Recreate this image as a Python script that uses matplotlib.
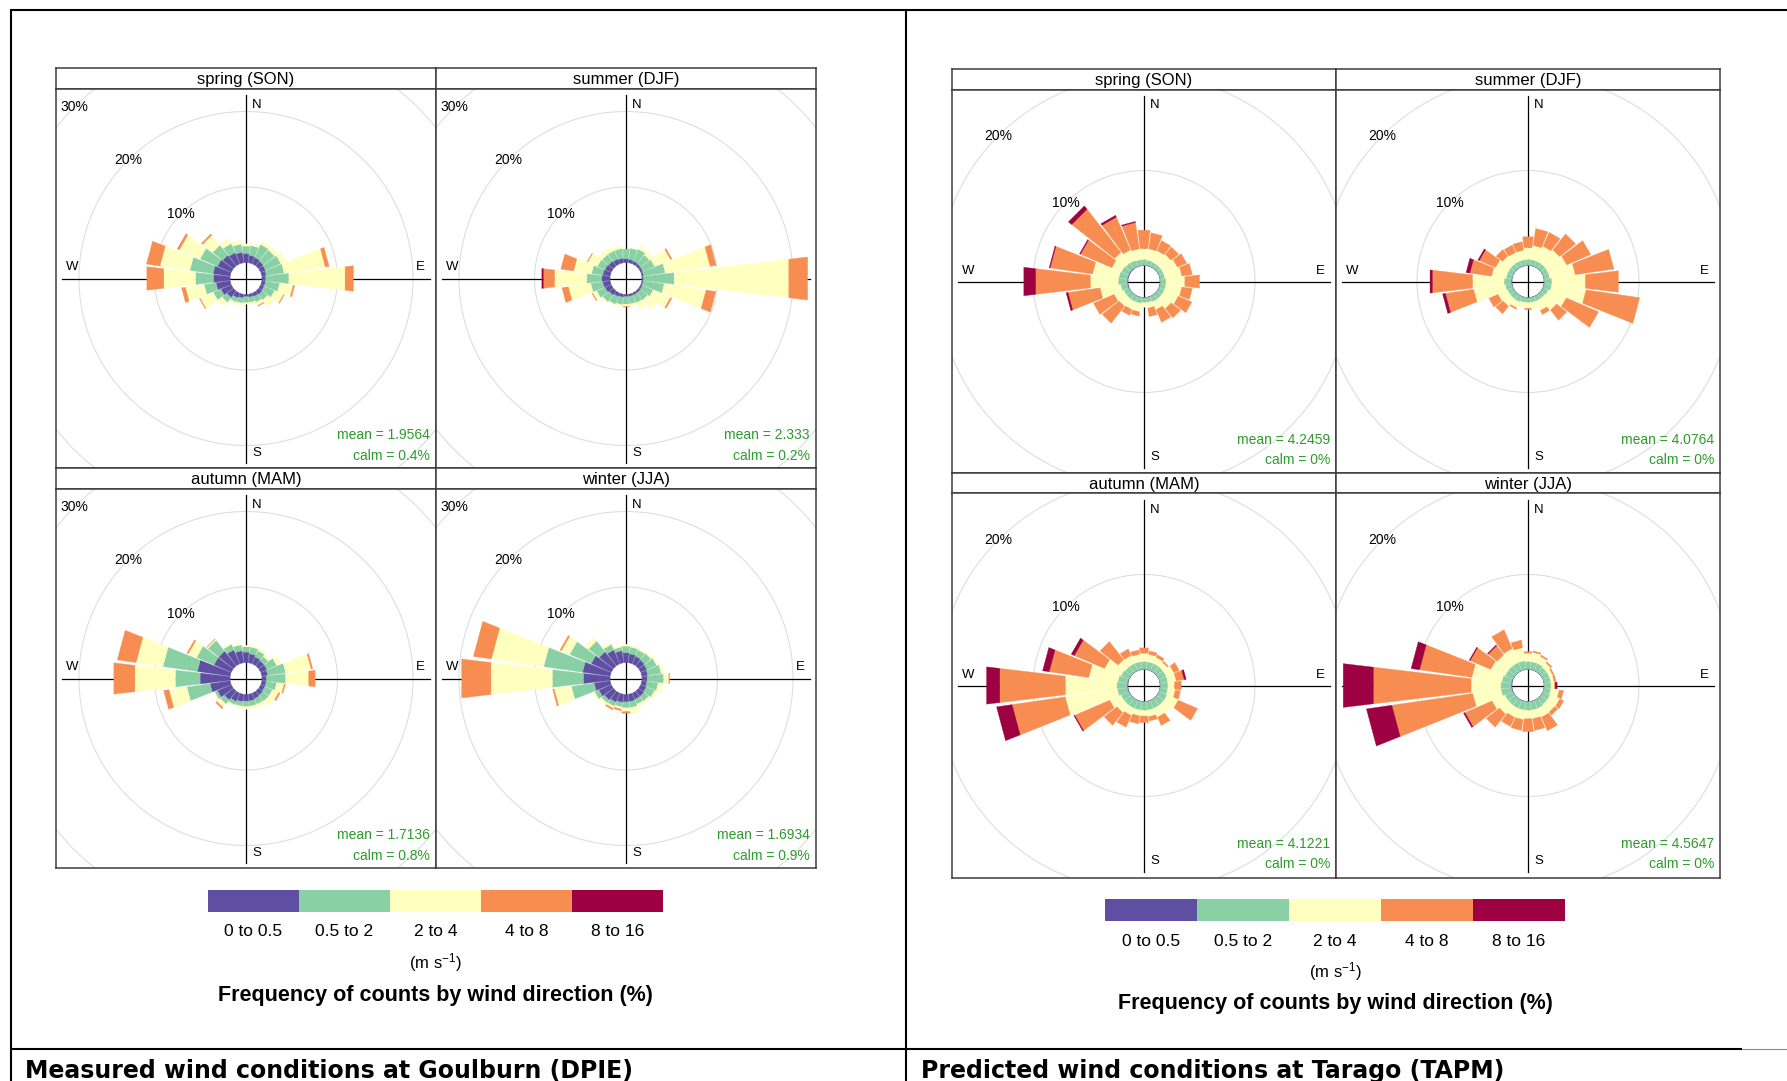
import numpy as np
import matplotlib
matplotlib.use("Agg")
import matplotlib.pyplot as plt
from matplotlib.patches import Circle

plt.rcParams["font.family"] = ["Liberation Sans", "DejaVu Sans"]
plt.rcParams["mathtext.fontset"] = "custom"
plt.rcParams["mathtext.rm"] = "Liberation Sans"
plt.rcParams["mathtext.it"] = "Liberation Sans:italic"

W, H = 1787, 1081

# ── wind rose data ────────────────────────────────────────────────────────────
DIRECTIONS = list(range(0, 360, 15))
SPEED_BINS = ["0 to 0.5", "0.5 to 2", "2 to 4", "4 to 8", "8 to 16"]
SPEED_COLOURS = ["#5E4FA2", "#89D0A5", "#FFFFBF", "#F88D52", "#9E0142"]
SEASONS = ["spring (SON)", "summer (DJF)", "autumn (MAM)", "winter (JJA)"]

# frequency (%) by direction (rows, 0..345 deg), one column per speed class
goulburn_spring = [
    [1.2, 1.0, 0.3, 0, 0], [1.0, 1.3, 0.3, 0, 0], [0.9, 1.9, 0.4, 0, 0],
    [0.8, 1.9, 0.5, 0, 0], [0.7, 2.2, 0.7, 0, 0], [0.6, 2.4, 5.5, 0.5, 0],
    [0.5, 3.1, 7.5, 1.1, 0], [0.5, 1.9, 1.8, 0.2, 0], [0.5, 1.5, 1.3, 0.1, 0],
    [0.6, 0.9, 1.1, 0, 0], [0.5, 0.8, 0.5, 0.1, 0], [0.4, 0.7, 0.2, 0, 0],
    [0.3, 0.8, 0.2, 0, 0], [0.5, 0.7, 0.3, 0, 0], [0.7, 0.6, 0.3, 0, 0],
    [1.1, 0.8, 0.7, 0, 0], [1.5, 1.1, 1.9, 0.1, 0], [1.9, 1.6, 2.5, 0.5, 0],
    [2.2, 2.4, 4.25, 2.25, 0], [2.3, 3.1, 4.0, 1.8, 0], [2.0, 2.5, 3.0, 0.3, 0],
    [1.8, 1.7, 1.7, 0.2, 0], [1.6, 1.3, 0.7, 0, 0], [1.4, 1.1, 0.5, 0, 0],
]
goulburn_summer = [
    [0.5, 1.3, 0, 0, 0], [0.45, 1.5, 0.1, 0, 0], [0.4, 1.7, 0.4, 0, 0],
    [0.35, 1.5, 0.6, 0, 0], [0.3, 1.7, 2.3, 0.2, 0], [0.25, 2.9, 6.0, 0.8, 0],
    [0.2, 4.1, 15.3, 2.5, 0], [0.2, 2.8, 5.6, 1.3, 0], [0.25, 1.55, 2.5, 0.2, 0],
    [0.3, 1.2, 1.6, 0, 0], [0.3, 1.1, 0.9, 0, 0], [0.3, 1.0, 0.3, 0, 0],
    [0.3, 1.0, 0.3, 0.05, 0], [0.4, 1.0, 0.3, 0, 0], [0.5, 1.1, 0.2, 0, 0],
    [0.7, 1.1, 0.2, 0, 0], [0.9, 1.2, 0.6, 0.1, 0], [1.0, 1.6, 3.0, 0.85, 0],
    [1.1, 2.0, 4.3, 1.5, 0.2], [1.0, 1.5, 2.4, 1.7, 0], [0.9, 1.1, 1.4, 0.1, 0],
    [0.8, 1.1, 0.7, 0, 0], [0.7, 1.2, 0.5, 0, 0], [0.6, 1.3, 0.4, 0, 0],
]
goulburn_autumn = [
    [1.4, 0.7, 0.2, 0, 0], [1.2, 0.9, 0.2, 0, 0], [1.0, 0.9, 0.3, 0, 0],
    [0.9, 0.7, 0.3, 0, 0], [0.9, 1.4, 0.6, 0, 0], [0.8, 2.4, 3.4, 0.2, 0],
    [0.6, 2.55, 3.1, 0.85, 0], [0.6, 1.4, 1.0, 0.15, 0], [0.6, 1.1, 0.9, 0.2, 0],
    [0.7, 1.0, 0.8, 0, 0], [0.8, 0.8, 0.4, 0, 0], [0.9, 0.7, 0.3, 0, 0],
    [0.9, 0.7, 0.4, 0, 0], [1.0, 0.6, 0.2, 0, 0], [1.2, 0.5, 0.1, 0, 0],
    [1.5, 0.7, 0.6, 0.2, 0], [2.0, 0.4, 0.1, 0, 0], [2.7, 3.1, 2.4, 0.7, 0],
    [4.0, 3.3, 5.4, 2.8, 0], [4.4, 4.6, 3.6, 2.5, 0], [2.5, 2.5, 1.2, 0.2, 0],
    [2.5, 1.8, 0.2, 0.05, 0], [2.0, 0.8, 0.2, 0, 0], [1.6, 0.8, 0.2, 0, 0],
]
goulburn_winter = [
    [1.3, 0.9, 0.25, 0, 0], [1.2, 0.9, 0.2, 0, 0], [1.1, 0.9, 0.2, 0, 0],
    [1.0, 1.1, 0.2, 0, 0], [0.9, 1.4, 0.2, 0, 0], [0.8, 1.8, 0.3, 0, 0],
    [0.7, 2.2, 0.7, 0.1, 0], [0.7, 1.5, 0.6, 0, 0], [0.8, 1.2, 0.4, 0, 0],
    [0.9, 0.8, 0.3, 0, 0], [0.9, 0.7, 0.4, 0, 0], [1.0, 0.8, 0.8, 0, 0],
    [1.0, 0.8, 0.5, 0.2, 0], [1.1, 0.6, 0.3, 0.2, 0], [1.3, 0.6, 0.3, 0.2, 0],
    [1.5, 0.5, 0.2, 0, 0], [1.8, 0.6, 0.2, 0, 0], [2.15, 3.05, 2.3, 0.2, 0],
    [3.55, 4.15, 8.2, 3.9, 0], [3.7, 5.2, 7.0, 2.4, 0], [2.9, 3.1, 1.2, 0.2, 0],
    [2.4, 1.8, 0.6, 0, 0], [2.0, 0.8, 0.3, 0, 0], [1.6, 0.5, 0.2, 0, 0],
]

tarago_spring = [
    [0.05, 0.6, 1.15, 1.95, 0], [0.05, 0.55, 1.2, 1.7, 0], [0.05, 0.5, 1.3, 1.15, 0],
    [0.05, 0.5, 1.4, 1.0, 0], [0.05, 0.5, 1.6, 1.05, 0], [0.05, 0.5, 1.8, 1.1, 0],
    [0.05, 0.6, 2.0, 1.55, 0], [0.05, 0.6, 1.7, 1.1, 0], [0.05, 0.6, 1.6, 1.55, 0],
    [0.05, 0.6, 1.3, 1.25, 0], [0.05, 0.6, 0.9, 1.45, 0], [0.05, 0.5, 0.6, 0.9, 0],
    [0.05, 0.5, 0.5, 0, 0], [0.05, 0.6, 0.9, 0.45, 0], [0.05, 0.6, 0.9, 0.65, 0],
    [0.05, 0.6, 1.0, 2.25, 0], [0.05, 0.6, 1.1, 2.35, 0], [0.1, 0.7, 2.2, 3.4, 0.2],
    [0.1, 0.95, 2.95, 5.8, 1.25], [0.1, 0.9, 2.8, 4.5, 0.1], [0.1, 0.8, 1.1, 3.6, 0.1],
    [0.1, 0.7, 1.45, 5.75, 0.45], [0.05, 0.7, 1.2, 3.75, 0.2], [0.05, 0.6, 1.15, 2.8, 0.1],
]
tarago_summer = [
    [0.05, 0.6, 1.25, 1.15, 0], [0.05, 0.6, 1.5, 1.8, 0], [0.05, 0.6, 1.7, 1.6, 0],
    [0.05, 0.6, 1.9, 2.15, 0], [0.05, 0.6, 2.1, 2.75, 0], [0.05, 0.6, 2.7, 4.1, 0],
    [0.05, 0.8, 3.55, 3.5, 0], [0.05, 0.8, 3.65, 5.7, 0], [0.05, 0.6, 2.05, 3.7, 0],
    [0.05, 0.5, 1.6, 1.35, 0], [0.05, 0.5, 1.1, 0.45, 0], [0.05, 0.5, 0.7, 0, 0],
    [0.05, 0.5, 0.6, 0.15, 0], [0.05, 0.5, 0.6, 0, 0], [0.05, 0.6, 0.7, 0.15, 0],
    [0.05, 0.6, 1.0, 1.0, 0], [0.05, 0.6, 1.1, 1.05, 0], [0.05, 0.7, 3.35, 3.0, 0.3],
    [0.1, 0.75, 3.35, 4.25, 0.25], [0.05, 0.6, 1.55, 2.3, 0.4], [0.05, 0.6, 1.4, 1.85, 0.15],
    [0.05, 0.6, 1.1, 0.85, 0], [0.05, 0.6, 1.0, 0.85, 0], [0.05, 0.6, 1.0, 0.9, 0],
]
tarago_autumn = [
    [0.05, 0.8, 0.9, 0.55, 0], [0.05, 0.8, 0.8, 0.35, 0], [0.05, 0.8, 0.7, 0.3, 0],
    [0.05, 0.8, 0.6, 0.15, 0], [0.05, 0.8, 0.9, 0.6, 0], [0.05, 0.8, 0.9, 0.85, 0.2],
    [0.05, 0.8, 0.7, 0.7, 0], [0.05, 0.8, 0.8, 0.55, 0], [0.05, 0.9, 1.3, 2.2, 0],
    [0.05, 0.9, 1.05, 0, 0], [0.05, 0.9, 1.0, 0.95, 0], [0.05, 0.9, 0.7, 0.45, 0],
    [0.05, 0.9, 0.6, 0.7, 0], [0.05, 0.9, 0.6, 0.85, 0], [0.05, 0.9, 0.8, 1.35, 0],
    [0.05, 0.9, 1.0, 1.7, 0], [0.05, 0.9, 1.3, 4.0, 0.1], [0.1, 1.05, 5.55, 5.65, 1.65],
    [0.1, 1.1, 5.45, 6.95, 1.4], [0.1, 1.0, 3.1, 4.2, 0.7], [0.05, 0.9, 1.9, 3.45, 0.35],
    [0.05, 0.8, 0.95, 2.4, 0], [0.05, 0.8, 0.9, 0.75, 0], [0.05, 0.8, 0.8, 0.45, 0],
]
tarago_winter = [
    [0.05, 0.8, 0.9, 0.15, 0], [0.05, 0.8, 1.0, 0.15, 0], [0.05, 0.8, 0.8, 0.15, 0],
    [0.05, 0.7, 0.6, 0.15, 0], [0.05, 0.7, 0.4, 0.15, 0], [0.05, 0.7, 0.35, 0.2, 0],
    [0.05, 0.7, 0.35, 0.1, 0.2], [0.05, 0.7, 0.9, 0.45, 0], [0.05, 0.8, 1.1, 0.45, 0],
    [0.05, 0.8, 1.05, 0.4, 0], [0.05, 0.9, 1.0, 1.55, 0], [0.05, 0.9, 0.9, 1.25, 0],
    [0.05, 0.9, 0.9, 1.35, 0], [0.05, 0.9, 1.0, 1.15, 0], [0.05, 0.9, 1.0, 1.05, 0],
    [0.05, 0.9, 1.2, 1.75, 0], [0.05, 0.9, 1.5, 3.1, 0.15], [0.1, 1.1, 3.0, 8.6, 2.7],
    [0.1, 1.1, 3.15, 10.35, 3.2], [0.1, 1.0, 3.2, 5.55, 0.9], [0.05, 0.9, 1.65, 2.35, 0.1],
    [0.05, 0.9, 1.5, 1.2, 0.1], [0.05, 0.9, 1.6, 2.15, 0], [0.05, 0.9, 1.4, 0.8, 0],
]

goulburn_mean = [1.9564, 2.333, 1.7136, 1.6934]
goulburn_calm = [0.4, 0.2, 0.8, 0.9]
tarago_mean = [4.2459, 4.0764, 4.1221, 4.5647]
tarago_calm = [0, 0, 0, 0]

CAPTIONS = ["Measured wind conditions at Goulburn (DPIE)",
            "Predicted wind conditions at Tarago (TAPM)"]

# ── page layout (pixels) ──────────────────────────────────────────────────────
SITES = [
    dict(tables=[goulburn_spring, goulburn_summer, goulburn_autumn, goulburn_winter],
         means=goulburn_mean, calms=goulburn_calm,
         cols=[(56, 436), (436, 816)],
         rows=[(68, 89, 468), (468, 489, 868)],
         px_per_pct=7.55, hole_px=16, grid=[10, 20, 30],
         legend=(208, 890, 663, 912), caption_x=25),
    dict(tables=[tarago_spring, tarago_summer, tarago_autumn, tarago_winter],
         means=tarago_mean, calms=tarago_calm,
         cols=[(952, 1336), (1336, 1720)],
         rows=[(69, 90, 473), (473, 493, 878)],
         px_per_pct=9.5, hole_px=16, grid=[10, 20, 30],
         legend=(1105, 899, 1565, 921), caption_x=921),
]

FRAME = "#3c3c3c"
HALF_WIDTH = np.radians(6.75)


def px_axes(fig, x0, y0, x1, y1):
    return fig.add_axes([x0 / W, 1 - y1 / H, (x1 - x0) / W, (y1 - y0) / H])


def draw_strip(ax, label):
    ax.set_xticks([])
    ax.set_yticks([])
    for s in ax.spines.values():
        s.set_color(FRAME)
        s.set_linewidth(1.1)
    ax.text(0.5, 0.45, label, ha="center", va="center", fontsize=12,
            transform=ax.transAxes)


def draw_rose(ax, table, k, hole_px, grid, mean, calm, w_px, h_px):
    off = hole_px / k
    lim_x = w_px / 2 / k
    lim_y = h_px / 2 / k
    ax.set_xlim(-lim_x, lim_x)
    ax.set_ylim(-lim_y, lim_y)
    ax.set_xticks([])
    ax.set_yticks([])
    for s in ax.spines.values():
        s.set_color(FRAME)
        s.set_linewidth(1.1)

    # grid circles
    for g in grid:
        ax.add_patch(Circle((0, 0), off + g, fill=False, ec="#dedede",
                            lw=0.8, zorder=1))

    # compass cross and letters sit underneath the paddles
    L = (w_px / 2 - 6) / k
    ax.plot([-L, L], [0, 0], color="black", lw=0.9, zorder=2)
    ax.plot([0, 0], [-L, L], color="black", lw=0.9, zorder=2)
    d = 10 / k
    ax.text(11 / k, L - d, "N", ha="center", va="center", fontsize=9.5, zorder=2)
    ax.text(11 / k, -L + d, "S", ha="center", va="center", fontsize=9.5, zorder=2)
    ax.text(L - d, 11 / k, "E", ha="center", va="center", fontsize=9.5, zorder=2)
    ax.text(-L + d, 11 / k, "W", ha="center", va="center", fontsize=9.5, zorder=2)

    # paddles
    for deg, row in zip(DIRECTIONS, table):
        th = np.radians(deg)
        cum = np.concatenate([[0], np.cumsum(row)])
        a1, a2 = th - HALF_WIDTH, th + HALF_WIDTH
        for j, colour in enumerate(SPEED_COLOURS):
            if row[j] <= 0:
                continue
            r0, r1 = off + cum[j], off + cum[j + 1]
            xs = [r0 * np.sin(a1), r0 * np.sin(a2), r1 * np.sin(a2), r1 * np.sin(a1)]
            ys = [r0 * np.cos(a1), r0 * np.cos(a2), r1 * np.cos(a2), r1 * np.cos(a1)]
            ax.fill(xs, ys, color=colour, ec=colour, lw=0.25, zorder=3)

    # percentage labels along 315 deg
    for g in grid:
        r = (off + g) / np.sqrt(2)
        ax.text(-r, r, f"{g}%", ha="center", va="center", fontsize=10,
                zorder=5, clip_on=True)

    ax.text(L, -L, f"mean = {mean:g}\ncalm = {calm:g}%", ha="right",
            va="bottom", fontsize=10, color="#2e9a2e", linespacing=1.55,
            zorder=5)


def draw_legend(fig, box):
    x0, y0, x1, y1 = box
    ax = px_axes(fig, x0, y0, x1, y1)
    ax.bar(range(len(SPEED_BINS)), 1, width=1.0, color=SPEED_COLOURS)
    ax.set_xlim(-0.5, len(SPEED_BINS) - 0.5)
    ax.set_ylim(0, 1)
    ax.set_yticks([])
    ax.set_xticks(range(len(SPEED_BINS)), SPEED_BINS, fontsize=12.5)
    ax.tick_params(axis="x", length=0, pad=9)
    for s in ax.spines.values():
        s.set_visible(False)
    cx = (x0 + x1) / 2
    fig.text(cx / W, 1 - 963 / H - (y0 - 890) / H, r"(m s$^{-1}$)",
             ha="center", va="center", fontsize=12)
    fig.text(cx / W, 1 - 995 / H - (y0 - 890) / H,
             "Frequency of counts by wind direction (%)",
             ha="center", va="center", fontsize=15.5, fontweight="bold")


fig = plt.figure(figsize=(W / 100, H / 100), dpi=100)
fig.patch.set_facecolor("white")

# table frame behind everything
bg = fig.add_axes([0, 0, 1, 1], zorder=-1)
bg.set_xlim(0, W)
bg.set_ylim(H, 0)
bg.axis("off")
bg.plot([11, W], [9.5, 9.5], color="black", lw=1.5, solid_capstyle="butt")
bg.plot([11, 11], [9, H], color="black", lw=1.5, solid_capstyle="butt")
bg.plot([906, 906], [9, H], color="black", lw=1.5, solid_capstyle="butt")
bg.plot([11, 1742], [1049, 1049], color="black", lw=1.5, solid_capstyle="butt")
bg.plot([1742, W], [1049, 1049], color="#8a8a8a", lw=0.8)

for site, caption in zip(SITES, CAPTIONS):
    k = site["px_per_pct"]
    for i, season in enumerate(SEASONS):
        r, c = divmod(i, 2)
        x0, x1 = site["cols"][c]
        ys, yp, yb = site["rows"][r]
        draw_strip(px_axes(fig, x0, ys, x1, yp), season)
        ax = px_axes(fig, x0, yp, x1, yb)
        draw_rose(ax, site["tables"][i], k, site["hole_px"], site["grid"],
                  site["means"][i], site["calms"][i], x1 - x0, yb - yp)
    draw_legend(fig, site["legend"])
    bg.text(site["caption_x"], 1078, caption, ha="left", va="baseline",
            fontsize=17, fontweight="bold", family="DejaVu Sans")

fig.savefig("out.png", dpi=100, facecolor="white")
